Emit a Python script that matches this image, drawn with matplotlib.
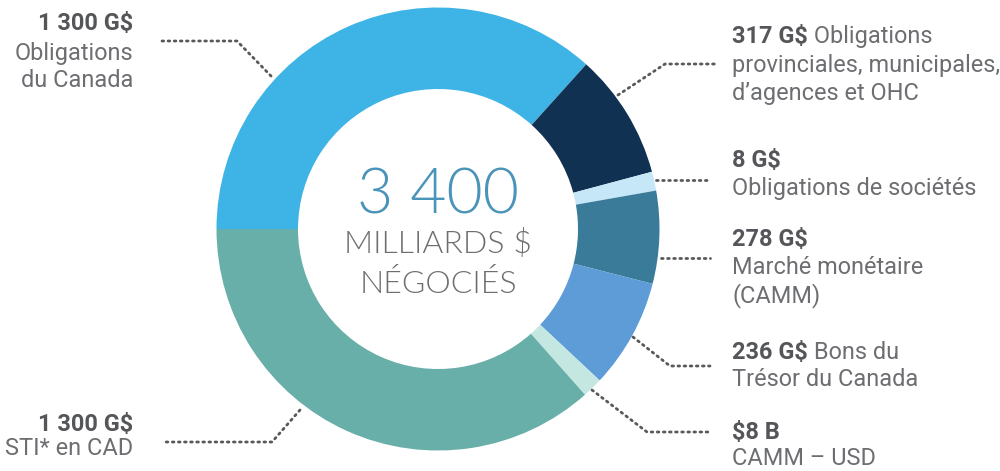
import matplotlib
matplotlib.use("Agg")
import matplotlib.pyplot as plt
from matplotlib.lines import Line2D

# ---------------- data ----------------
categories = [
    "Obligations du Canada",
    "Obligations provinciales, municipales, d'agences et OHC",
    "Obligations de sociétés",
    "Marché monétaire (CAMM)",
    "Bons du Trésor du Canada",
    "CAMM – USD",
    "STI* en CAD",
]
amount_labels = ["1 300 G$", "317 G$", "8 G$", "278 G$", "236 G$", "$8 B", "1 300 G$"]
# slice sizes as drawn in the graphic (G$ equivalent, read from arc lengths)
slice_sizes = [1247, 312, 47, 230, 272, 50, 1243]
colors = ["#3db3e6", "#113152", "#c6e7f8", "#3a7b9a", "#5d9cd7", "#c4e7e2", "#68aea9"]
total_label = "3 400"

W, H = 1000, 471
fig = plt.figure(figsize=(W / 100, H / 100), dpi=100)
ax = fig.add_axes([0, 0, 1, 1])

def Y(y):
    return H - y

cx, cy = 438, 229
R_out, R_in = 221.5, 140
ax.pie(slice_sizes, colors=colors, startangle=180, counterclock=False,
       radius=R_out, center=(cx, Y(cy)), frame=True,
       wedgeprops=dict(width=R_out - R_in, edgecolor="none", linewidth=0))
ax.set_xlim(0, W)
ax.set_ylim(0, H)
ax.set_aspect("auto")
ax.axis("off")

# centre text
ax.text(cx, Y(213), total_label, ha="center", va="baseline", fontsize=45,
        family="Lato", fontweight=300, color="#4a93b9")
ax.text(cx, Y(253), "MILLIARDS $", ha="center", va="baseline", fontsize=23,
        family="Lato", fontweight=300, color="#6d6e71")
ax.text(cx, Y(293), "NÉGOCIÉS", ha="center", va="baseline", fontsize=23,
        family="Lato", fontweight=300, color="#6d6e71")

FS = 16.9
BOLD_C = "#555659"
REG_C = "#6d6e71"
FONT = "Roboto"

def txt(x, y, s, bold=False, ha="left"):
    return ax.text(x, Y(y), s, ha=ha, va="baseline", fontsize=FS, family=FONT,
                   fontweight="bold" if bold else "normal",
                   color=BOLD_C if bold else REG_C)

# left labels
txt(133, 30, amount_labels[0], bold=True, ha="right")
txt(133, 60, "Obligations", ha="right")
txt(133, 87, "du Canada", ha="right")
txt(133, 431, amount_labels[6], bold=True, ha="right")
txt(133, 455, "STI* en CAD", ha="right")

# right labels
XR = 732
mixed = []
mixed.append((txt(XR, 43, amount_labels[1], bold=True), 43, " Obligations"))
txt(XR, 72, "provinciales, municipales,")
txt(XR, 100, "d’agences et OHC")
txt(XR, 167, amount_labels[2], bold=True)
txt(XR, 195, "Obligations de sociétés")
txt(XR, 246, amount_labels[3], bold=True)
txt(XR, 274, "Marché monétaire")
txt(XR, 302, "(CAMM)")
mixed.append((txt(XR, 359, amount_labels[4], bold=True), 359, " Bons du"))
txt(XR, 386, "Trésor du Canada")
txt(XR, 439, amount_labels[5], bold=True)
txt(XR, 465, "CAMM – USD")

fig.canvas.draw()
r = fig.canvas.get_renderer()
for t, y, s in mixed:
    bb = t.get_window_extent(renderer=r)
    txt(bb.x1, y, s)

# leader lines
leaders = [
    [(162, 41), (237, 41), (272, 77)],
    [(618, 95), (665, 64), (718, 64)],
    [(656, 180), (710, 180)],
    [(661, 258), (710, 258)],
    [(633, 337), (670, 366), (710, 366)],
    [(592, 390), (647, 432), (712, 432)],
    [(300, 410), (272, 442), (162, 442)],
]
for pts in leaders:
    xs = [p[0] for p in pts]
    ys = [Y(p[1]) for p in pts]
    ax.add_line(Line2D(xs, ys, color="#58595b", lw=2.0, linestyle=(0, (0.6, 1.6)),
                       dash_capstyle="round", solid_capstyle="round"))

fig.savefig("out.png", dpi=100)
